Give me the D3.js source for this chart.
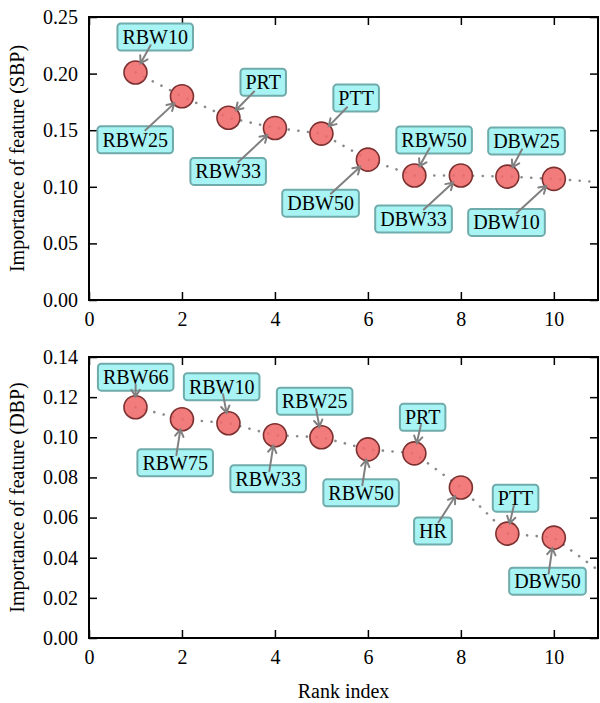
<!DOCTYPE html>
<html><head><meta charset="utf-8">
<script src="https://cdn.jsdelivr.net/npm/d3@7"></script>
<style>body{margin:0;background:#fff}svg{display:block}
svg text{font-family:"Liberation Serif","Times New Roman",Times,"Nimbus Roman","DejaVu Serif",serif !important;}
</style>
</head><body>
<svg id="c" width="600" height="703"></svg>
<script>
// ---------- data ----------
const ranks = [1, 2, 3, 4, 5, 6, 7, 8, 9, 10];
const sbpValues = [0.201, 0.180, 0.161, 0.152, 0.147, 0.124, 0.110, 0.110, 0.109, 0.107];
const sbpLabels = ["RBW10", "RBW25", "PRT", "RBW33", "PTT", "DBW50", "RBW50", "DBW33", "DBW25", "DBW10"];
const sbpTail = [{rank: 11, value: 0.104}];
const dbpValues = [0.115, 0.109, 0.107, 0.101, 0.100, 0.094, 0.092, 0.075, 0.052, 0.050];
const dbpLabels = ["RBW66", "RBW75", "RBW10", "RBW33", "RBW25", "RBW50", "PRT", "HR", "PTT", "DBW50"];
const dbpTail = [{rank: 11, value: 0.033}];
const xTicks = [0, 2, 4, 6, 8, 10];
const sbpTicks = [0.00, 0.05, 0.10, 0.15, 0.20, 0.25];
const dbpTicks = [0.00, 0.02, 0.04, 0.06, 0.08, 0.10, 0.12, 0.14];
const xLabel = "Rank index";
const sbpYLabel = "Importance of feature (SBP)";
const dbpYLabel = "Importance of feature (DBP)";

// ---------- layout (annotation placement: box right edge dx, box centre dy, px) ----------
const sbpOffsets = [[57.5,-35.5],[-9,43.5],[57.5,-35.5],[-9,43.5],[57.5,-35.5],[-9,43.5],[57.5,-35.5],[-9,43.5],[57.5,-35.5],[-9,43.5]];
const dbpOffsets = [[38,-30],[31,43.5],[31,-36.5],[31,43.5],[31,-36],[31,43.5],[31,-36],[-9,43.5],[31,-35.5],[32,43.5]];

const svg = d3.select("#c");
const L = 89, R = 598;

function panel(id, top, bottom, yMax, values, labels, tail, yTicks, yLab, offsets, showXLabels) {
  const x = d3.scaleLinear().domain([0, 10.95]).range([L, R]);
  const y = d3.scaleLinear().domain([0, yMax]).range([bottom, top]);
  const g = svg.append("g");

  g.append("clipPath").attr("id", "clip" + id).append("rect")
    .attr("x", L).attr("y", top).attr("width", R - L).attr("height", bottom - top);

  const tl = 8;
  g.append("g").attr("transform", `translate(0,${bottom})`)
    .call(d3.axisBottom(x).tickValues(xTicks).tickSize(-tl).tickPadding(12).tickFormat(showXLabels ? d3.format("d") : ""))
    .call(a => a.select(".domain").remove());
  g.append("g").attr("transform", `translate(0,${top})`)
    .call(d3.axisTop(x).tickValues(xTicks).tickSize(-tl).tickFormat(""))
    .call(a => a.select(".domain").remove());
  g.append("g").attr("transform", `translate(${L},0)`)
    .call(d3.axisLeft(y).tickValues(yTicks).tickSize(-tl).tickPadding(11).tickFormat(d3.format(".2f")))
    .call(a => a.select(".domain").remove());
  g.append("g").attr("transform", `translate(${R},0)`)
    .call(d3.axisRight(y).tickValues(yTicks).tickSize(-tl).tickFormat(""))
    .call(a => a.select(".domain").remove());
  g.selectAll(".tick line").attr("stroke", "#000").attr("stroke-width", 1.5);
  g.selectAll(".tick text").attr("font-size", 20).attr("fill", "#000");

  const pts = ranks.map((r, i) => ({rank: r, value: values[i], label: labels[i], off: offsets[i]}));
  const linePts = pts.concat(tail);
  g.append("path").datum(linePts)
    .attr("clip-path", `url(#clip${id})`)
    .attr("d", d3.line().x(d => x(d.rank)).y(d => y(d.value)))
    .attr("fill", "none").attr("stroke", "#8a8a8a").attr("stroke-width", 2.6)
    .attr("stroke-linecap", "round").attr("stroke-dasharray", "0.1 9.6");

  g.selectAll("circle.pt").data(pts).join("circle").attr("class", "pt")
    .attr("cx", d => x(d.rank)).attr("cy", d => y(d.value)).attr("r", 11.5)
    .attr("fill", "#f06a6a").attr("fill-opacity", 0.88)
    .attr("stroke", "#7d3030").attr("stroke-width", 1.6);

  pts.forEach(d => {
    const px = x(d.rank), py = y(d.value);
    const a = g.append("g");
    const box = a.append("rect");
    const t = a.append("text").text(d.label).attr("font-size", 20).attr("fill", "#000")
      .attr("text-anchor", "middle");
    const tw = t.node().getComputedTextLength();
    const bw = tw + 10, bh = 27;
    const right = px + d.off[0], cy = py + d.off[1];
    const cx = right - bw / 2;
    box.attr("x", cx - bw / 2).attr("y", cy - bh / 2).attr("width", bw).attr("height", bh)
      .attr("rx", 3.5).attr("fill", "#9ff2f2").attr("fill-opacity", 0.9)
      .attr("stroke", "#6fabab").attr("stroke-width", 2);
    t.attr("x", cx).attr("y", cy + 7);
    const dx = px - cx, dy = py - cy, len = Math.hypot(dx, dy);
    const ux = dx / len, uy = dy / len;
    const te = Math.min(Math.abs(dx) > 1e-6 ? (bw / 2) / Math.abs(dx) : 1e9, Math.abs(dy) > 1e-6 ? (bh / 2) / Math.abs(dy) : 1e9);
    const sx = cx + dx * te - ux * 6, sy = cy + dy * te - uy * 6;
    const ex = px - ux * 10.5, ey = py - uy * 10.5;
    const hl = 8, ang = 0.55;
    const h1x = ex - hl * (ux * Math.cos(ang) - uy * Math.sin(ang)), h1y = ey - hl * (uy * Math.cos(ang) + ux * Math.sin(ang));
    const h2x = ex - hl * (ux * Math.cos(-ang) - uy * Math.sin(-ang)), h2y = ey - hl * (uy * Math.cos(-ang) + ux * Math.sin(-ang));
    a.insert("path", "text")
      .attr("d", `M${sx},${sy}L${ex},${ey}M${h1x},${h1y}L${ex},${ey}L${h2x},${h2y}`)
      .attr("fill", "none").attr("stroke", "#808080").attr("stroke-width", 2).attr("stroke-linecap", "round");
  });

  g.append("rect").attr("x", L).attr("y", top).attr("width", R - L).attr("height", bottom - top)
    .attr("fill", "none").attr("stroke", "#000").attr("stroke-width", 2);

  g.append("text").text(yLab).attr("font-size", 20).attr("fill", "#000")
    .attr("text-anchor", "middle").attr("transform", `translate(24,${(top + bottom) / 2}) rotate(-90)`);
}

panel("a", 17, 300, 0.25, sbpValues, sbpLabels, sbpTail, sbpTicks, sbpYLabel, sbpOffsets, true);
panel("b", 357, 638, 0.14, dbpValues, dbpLabels, dbpTail, dbpTicks, dbpYLabel, dbpOffsets, true);

svg.append("text").text(xLabel).attr("font-size", 20).attr("fill", "#000")
  .attr("text-anchor", "middle").attr("x", (L + R) / 2).attr("y", 698);
</script>
</body></html>
